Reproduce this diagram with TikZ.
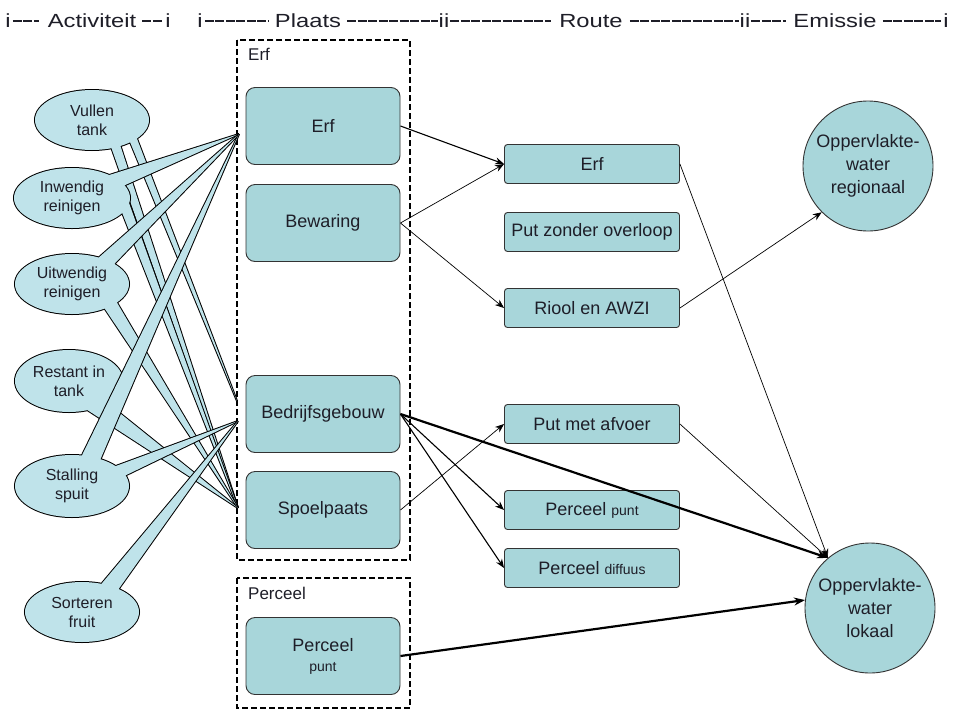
\documentclass[tikz,border=0pt]{standalone}
\usepackage{fontspec}
\setmainfont{Liberation Sans}
\newfontfamily\hdrfont[FakeStretch=1.25]{Liberation Sans}
\usetikzlibrary{arrows.meta,calc}
\definecolor{boxfill}{HTML}{A8D6DA}
\definecolor{calfill}{HTML}{BFE3EA}
\definecolor{txt}{HTML}{1E1E28}
\begin{document}
\begin{tikzpicture}[x=1pt,y=-1pt,
  plaats/.style={draw=black!80, line width=0.9pt, fill=boxfill, rounded corners=9pt,
    minimum width=154pt, minimum height=77pt, inner sep=0pt, align=center, text=txt,
    font=\fontsize{18}{20}\selectfont},
  routebox/.style={draw=black!80, line width=0.9pt, fill=boxfill, rounded corners=3pt,
    minimum width=175pt, minimum height=39pt, inner sep=0pt, text=txt,
    font=\fontsize{18}{20}\selectfont},
  water/.style={circle, draw=black!80, line width=0.9pt, fill=boxfill, minimum size=130pt,
    inner sep=0pt, align=center, text=txt, font=\fontsize{18}{23}\selectfont},
  acttext/.style={align=center, text=txt, font=\fontsize{16}{19}\selectfont, inner sep=0pt},
  calstroke/.style={draw=black, line width=2pt, line join=miter},
  calfillst/.style={fill=calfill},
  container/.style={draw=black, line width=1.5pt, dash pattern=on 6pt off 3pt},
  contlabel/.style={anchor=base west, font=\fontsize{17}{20}\selectfont, text=txt, inner sep=0pt},
  hdr/.style={anchor=base, font=\hdrfont\fontsize{19}{22}\selectfont, text=txt, inner sep=0pt},
  hdrline/.style={line width=1.3pt, draw=txt, dash pattern=on 9pt off 1.5pt},
  flow/.style={-{Stealth[length=9pt,width=7pt]}, line width=0.7pt},
  flowmid/.style={-{Stealth[length=9pt,width=7pt]}, line width=1.1pt},
  flowthick/.style={-{Stealth[length=11pt,width=8pt]}, line width=2.2pt}
]
\useasboundingbox (0,0) rectangle (953,713);
\fill[white] (0,0) rectangle (953,713);

% ---------- header ----------
\node[hdr] (hi1) at (8,27) {i};
\node[hdr] (hact) at (92,27) {Activiteit};
\node[hdr] (hi2) at (168,27) {i};
\node[hdr] (hi3) at (200,27) {i};
\node[hdr] (hpla) at (308,27) {Plaats};
\node[hdr] (hii1) at (444,27) {ii};
\node[hdr] (hrou) at (591,27) {Route};
\node[hdr] (hii2) at (745,27) {ii};
\node[hdr] (hemi) at (835,27) {Emissie};
\node[hdr] (hi4) at (946,27) {i};
\draw[hdrline] ($(hi1.base east)+(2,-6)$) -- ($(hact.base west)+(-9,-6)$);
\draw[hdrline] ($(hact.base east)+(6,-6)$) -- ($(hi2.base west)+(-2,-6)$);
\draw[hdrline] ($(hi3.base east)+(2,-6)$) -- ($(hpla.base west)+(-6,-6)$);
\draw[hdrline] ($(hpla.base east)+(6,-6)$) -- ($(hii1.base west)+(-1,-6)$);
\draw[hdrline] ($(hii1.base east)+(1,-6)$) -- ($(hrou.base west)+(-8,-6)$);
\draw[hdrline] ($(hrou.base east)+(7,-6)$) -- ($(hii2.base west)+(-1,-6)$);
\draw[hdrline] ($(hii2.base east)+(1,-6)$) -- ($(hemi.base west)+(-7,-6)$);
\draw[hdrline] ($(hemi.base east)+(6,-6)$) -- ($(hi4.base west)+(-2,-6)$);

% ---------- containers ----------
\draw[container] (237,40) rectangle (410,560);
\node[contlabel] (lerf) at (248,60) {Erf};
\draw[container] (237,578) rectangle (410,708);
\node[contlabel] (lper) at (248,599) {Perceel};

% ---------- callout tips ----------
\coordinate (tE) at (239,134);
\coordinate (tB1) at (237,401);
\coordinate (tB2) at (238,421);
\coordinate (tS) at (238,508);

% ---------- activities (callouts) ----------
\coordinate (vulc) at (92,120);
\newcommand{\vulshape}{($(vulc)+(60:57 and 30)$) -- ($(vulc)+(70:57 and 30)$) -- (tS) -- cycle
  ($(vulc)+(38:57 and 30)$) -- ($(vulc)+(48:57 and 30)$) -- (tB1) -- cycle
  (vulc) ellipse [x radius=57pt, y radius=30pt]}
\path[calstroke] \vulshape;
\path[calfillst] \vulshape;
\node[acttext] (vul) at (vulc) {Vullen\\tank};

\coordinate (inwc) at (72,198);
\newcommand{\inwshape}{($(inwc)+(-50:58 and 30)$) -- ($(inwc)+(-25:58 and 30)$) -- (tE) -- cycle
  ($(inwc)+(10:58 and 30)$) -- ($(inwc)+(30:58 and 30)$) -- (tS) -- cycle
  (inwc) ellipse [x radius=58pt, y radius=30pt]}
\path[calstroke] \inwshape;
\path[calfillst] \inwshape;
\node[acttext] (inw) at (inwc) {Inwendig\\reinigen};

\coordinate (uitc) at (72,284);
\newcommand{\uitshape}{($(uitc)+(-62:57 and 30)$) -- ($(uitc)+(-42:57 and 30)$) -- (tE) -- cycle
  ($(uitc)+(38:57 and 30)$) -- ($(uitc)+(55:57 and 30)$) -- (tS) -- cycle
  (uitc) ellipse [x radius=57pt, y radius=30pt]}
\path[calstroke] \uitshape;
\path[calfillst] \uitshape;
\node[acttext] (uit) at (uitc) {Uitwendig\\reinigen};

\coordinate (resc) at (69,381);
\newcommand{\resshape}{($(resc)+(45:54 and 31)$) -- ($(resc)+(70:54 and 31)$) -- (tS) -- cycle
  (resc) ellipse [x radius=54pt, y radius=31pt]}
\path[calstroke] \resshape;
\path[calfillst] \resshape;
\node[acttext] (res) at (resc) {Restant in\\tank};

\coordinate (stac) at (72,486);
\newcommand{\stashape}{($(stac)+(-80:57 and 31)$) -- ($(stac)+(-60:57 and 31)$) -- (tE) -- cycle
  ($(stac)+(-40:57 and 31)$) -- ($(stac)+(-20:57 and 31)$) -- (tB2) -- cycle
  (stac) ellipse [x radius=57pt, y radius=31pt]}
\path[calstroke] \stashape;
\path[calfillst] \stashape;
\node[acttext] (sta) at (stac) {Stalling\\spuit};

\coordinate (sorc) at (82,612);
\newcommand{\sorshape}{($(sorc)+(-70:57 and 30)$) -- ($(sorc)+(-50:57 and 30)$) -- (tB2) -- cycle
  (sorc) ellipse [x radius=57pt, y radius=30pt]}
\path[calstroke] \sorshape;
\path[calfillst] \sorshape;
\node[acttext] (sor) at (sorc) {Sorteren\\fruit};

% ---------- Plaats boxes ----------
\node[plaats] (perf) at (323,126) {Erf};
\node[plaats] (pbew) at (323,223) {Bewaring};
\node[plaats] (pbed) at (323,414) {Bedrijfsgebouw};
\node[plaats] (pspo) at (323,510) {Spoelpaats};
\node[plaats] (pper) at (323,656) {Perceel\\{\fontsize{14}{16}\selectfont punt}};

% ---------- Route boxes ----------
\node[routebox] (rerf) at (592,164) {Erf};
\node[routebox] (rput) at (592,232) {Put zonder overloop};
\node[routebox] (rrio) at (592,308) {Riool en AWZI};
\node[routebox] (rafv) at (592,424) {Put met afvoer};
\node[routebox] (rpp) at (592,510) {Perceel {\fontsize{14}{16}\selectfont punt}};
\node[routebox] (rpd) at (592,568) {Perceel {\fontsize{14}{16}\selectfont diffuus}};

% ---------- Emissie ----------
\node[water] (creg) at (868,166) {Oppervlakte-\\water\\regionaal};
\node[water] (clok) at (870,608) {Oppervlakte-\\water\\lokaal};

% ---------- connectors ----------
\draw[flowmid] (perf.east) -- (rerf.west);
\draw[flow] (pbew.east) -- (rerf.west);
\draw[flow] (pbew.east) -- (rrio.west);
\draw[flow] (pspo.east) -- (rafv.west);
\draw[flowmid] (pbed.east) -- (rpp.west);
\draw[flowmid] (pbed.east) -- (rpd.west);
\draw[flowthick] (pbed.east) -- (clok.130);
\draw[flowthick] (pper.east) -- (clok.173);
\draw[flow] (rerf.east) -- (clok.130);
\draw[flow] (rafv.east) -- (clok.130);
\draw[flow] (rrio.east) -- (creg.225);
\end{tikzpicture}
\end{document}
